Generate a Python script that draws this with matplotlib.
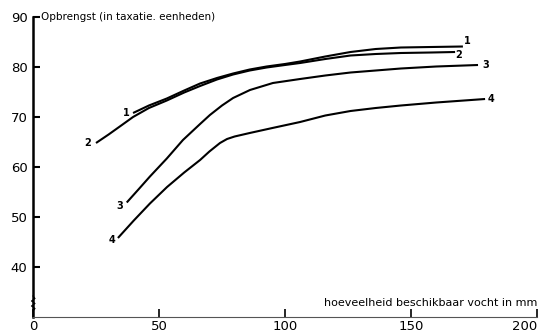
import numpy as np
import matplotlib
matplotlib.use("Agg")
import matplotlib.pyplot as plt

# yield (taxation units) vs available moisture (mm)
x1 = [39.7, 46, 53.1, 60, 66.3, 73, 79.4, 86, 92.7, 100, 106, 116, 126, 136, 146, 158, 170.6]
y1 = [70.8, 72.3, 73.7, 75.3, 76.7, 77.8, 78.7, 79.5, 80.1, 80.6, 81.1, 82.1, 83.0, 83.6, 83.9, 84.0, 84.1]
x2 = [25, 30, 35, 39.7, 46, 53.1, 60, 66.3, 73, 79.4, 86, 92.7, 100, 106, 116, 126, 136, 146, 158, 167.5]
y2 = [64.8, 66.5, 68.3, 70.0, 71.8, 73.3, 74.9, 76.2, 77.5, 78.5, 79.3, 79.9, 80.4, 80.8, 81.6, 82.3, 82.6, 82.8, 82.9, 83.0]
x3 = [37.2, 42, 46.4, 53.1, 59.5, 66.3, 70.2, 75, 79.4, 86.1, 95.2, 106, 116, 126, 136, 146, 160, 176.6]
y3 = [52.9, 55.6, 58.1, 61.7, 65.4, 68.6, 70.4, 72.3, 73.8, 75.4, 76.8, 77.6, 78.3, 78.9, 79.3, 79.7, 80.1, 80.4]
x4 = [33.7, 40, 46.4, 53.2, 60, 66.3, 70, 74.2, 77, 80, 86, 95, 106, 116, 126, 136, 146, 160, 179.4]
y4 = [45.8, 49.3, 52.7, 56.0, 58.9, 61.4, 63.1, 64.8, 65.6, 66.1, 66.8, 67.8, 69.0, 70.3, 71.2, 71.8, 72.3, 72.9, 73.6]
series = [(x1, y1, "1"), (x2, y2, "2"), (x3, y3, "3"), (x4, y4, "4")]

start_lbl = [(36.9, 70.9), (21.8, 64.8), (34.5, 52.2), (31.3, 45.4)]
end_lbl = [(172.5, 85.3), (169.0, 82.5), (179.8, 80.3), (181.6, 73.6)]

xticks = [0, 50, 100, 150, 200]
yticks = [40, 50, 60, 70, 80, 90]

fig = plt.figure(figsize=(5.4, 3.32), dpi=100)
ax = fig.add_axes([33 / 540, 1 - 317 / 332, 504 / 540, 300 / 332])

for (xs, ys, name), s, e in zip(series, start_lbl, end_lbl):
    ax.plot(xs, ys, color="black", lw=1.5, solid_joinstyle="round", solid_capstyle="butt")
    ax.text(s[0], s[1], name, fontsize=7, ha="center", va="center", fontweight="bold")
    ax.text(e[0], e[1], name, fontsize=7, ha="center", va="center", fontweight="bold")

ax.set_xlim(0, 200)
ax.set_ylim(30, 90)
ax.set_xticks(xticks)
ax.set_yticks(yticks)
ax.set_xticklabels([str(t) for t in xticks])
ax.set_yticklabels([str(t) for t in yticks])
ax.tick_params(axis="y", direction="in", length=5, width=1.5, labelsize=9.5, pad=4)
ax.tick_params(axis="x", direction="in", length=6, width=1.2, labelsize=9.5, pad=2)
ax.get_xticklabels()[-1].set_ha("right")

ax.spines["top"].set_visible(False)
ax.spines["right"].set_visible(False)
ax.spines["left"].set_linewidth(1.8)
ax.spines["bottom"].set_linewidth(0.8)
ax.spines["bottom"].set_color("#555555")

# axis break squiggle at the bottom of the y axis
zz_y = np.linspace(0.02, 0.07, 7)
zz_x = np.array([0, 0.004, -0.003, 0.004, -0.003, 0.004, 0])
ax.plot(zz_x, zz_y, transform=ax.transAxes, color="black", lw=0.8, clip_on=False)

ax.text(0.016, 1.0, "Opbrengst (in taxatie. eenheden)", transform=ax.transAxes,
        fontsize=7.5, ha="left", va="center")
ax.text(1.0, 0.045, "hoeveelheid beschikbaar vocht in mm", transform=ax.transAxes,
        fontsize=8, ha="right", va="center")

fig.savefig("out.png", dpi=100)
